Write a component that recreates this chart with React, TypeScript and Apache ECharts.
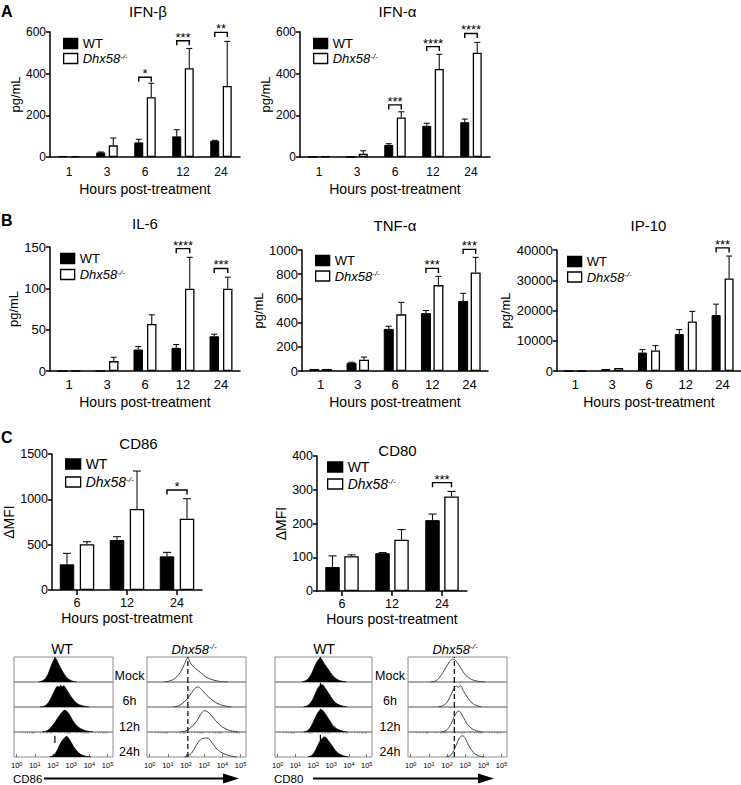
import React, { useEffect, useRef } from 'react';
import * as echarts from 'echarts';

const FONT = '"Liberation Sans", Arial, Helvetica, sans-serif';
const KO = 'Dhx58-/-';

// ---------- categories ----------
const hoursAB = ['1', '3', '6', '12', '24'];
const hoursC = ['6', '12', '24'];

// ---------- IFN-β (pg/mL) ----------
const ifnbWT = [4, 22, 70, 99, 78];
const ifnbWTErr = [0, 2, 15, 32, 2];
const ifnbKO = [4, 56, 287, 426, 341];
const ifnbKOErr = [0, 35, 67, 95, 214];
const ifnbSigCat = [2, 3, 4];
const ifnbSigAt = [383, 558, 598];
const ifnbSigTxt = ['*', '***', '**'];

// ---------- IFN-α ----------
const ifnaWT = [0, 0, 58, 150, 167];
const ifnaWTErr = [0, 0, 6, 12, 15];
const ifnaKO = [3, 16, 190, 423, 501];
const ifnaKOErr = [0, 14, 27, 70, 49];
const ifnaSigCat = [2, 3, 4];
const ifnaSigAt = [250, 530, 593];
const ifnaSigTxt = ['***', '****', '****'];

// ---------- IL-6 ----------
const il6WT = [0, 0, 26, 28, 42];
const il6WTErr = [0, 0, 3.5, 4, 2.5];
const il6KO = [0, 12, 57, 99.5, 99.5];
const il6KOErr = [0, 4.6, 11, 38, 14];
const il6SigCat = [3, 4];
const il6SigAt = [148, 124];
const il6SigTxt = ['****', '***'];

// ---------- TNF-α ----------
const tnfWT = [17, 68, 348, 478, 578];
const tnfWTErr = [0, 4, 22, 22, 64];
const tnfKO = [17, 93, 468, 710, 815];
const tnfKOErr = [0, 22, 99, 72, 124];
const tnfSigCat = [3, 4];
const tnfSigAt = [848, 1005];
const tnfSigTxt = ['***', '***'];

// ---------- IP-10 ----------
const ip10WT = [0, 650, 6100, 12200, 18500];
const ip10WTErr = [0, 0, 1000, 1500, 3600];
const ip10KO = [0, 1000, 6800, 16400, 30600];
const ip10KOErr = [0, 0, 1600, 3300, 7400];
const ip10SigCat = [4];
const ip10SigAt = [40700];
const ip10SigTxt = ['***'];

// ---------- CD86 (ΔMFI) ----------
const cd86WT = [283, 551, 371];
const cd86WTErr = [121, 37, 44];
const cd86KO = [504, 893, 787];
const cd86KOErr = [29, 419, 220];
const cd86SigCat = [2];
const cd86SigAt = [1103];
const cd86SigTxt = ['*'];

// ---------- CD80 (ΔMFI) ----------
const cd80WT = [71, 112, 210];
const cd80WTErr = [33, 2, 18];
const cd80KO = [103, 152, 280];
const cd80KOErr = [4, 30, 15];
const cd80SigCat = [2];
const cd80SigAt = [321];
const cd80SigTxt = ['***'];

// ---------- histograms: [log10 intensity, relative count] ----------
const rowLabels = ['Mock', '6h', '12h', '24h'];
const histTicks = [0, 1, 2, 3, 4, 5];

const cd86WtMock = [[1.2, 0], [1.4, 0.04], [1.6, 0.15], [1.8, 0.45], [1.95, 0.75], [2.12, 0.95], [2.3, 0.72], [2.5, 0.45], [2.75, 0.18], [3.0, 0.05], [3.3, 0]];
const cd86Wt6h = [[1.3, 0], [1.6, 0.06], [1.85, 0.3], [2.05, 0.6], [2.25, 0.82], [2.35, 0.8], [2.42, 0.87], [2.5, 0.8], [2.57, 0.85], [2.75, 0.68], [3.0, 0.4], [3.3, 0.15], [3.6, 0.05], [4.0, 0]];
const cd86Wt12h = [[1.4, 0], [1.7, 0.06], [2.0, 0.28], [2.25, 0.55], [2.45, 0.75], [2.65, 0.87], [2.85, 0.75], [3.05, 0.5], [3.35, 0.22], [3.7, 0.07], [4.2, 0]];
const cd86Wt24h = [[1.8, 0], [2.05, 0.08], [2.25, 0.3], [2.45, 0.6], [2.65, 0.78], [2.75, 0.82], [2.9, 0.7], [3.1, 0.45], [3.35, 0.2], [3.65, 0.06], [4.1, 0]];
const cd86WtMarkLo = [0.85, 0.03, 0.05, 0.56];
const cd86WtMarkHi = [1.0, 0.23, 0.25, 0.85];

const cd86KoMock = [[0.8, 0], [1.1, 0.04], [1.4, 0.15], [1.7, 0.4], [1.9, 0.7], [2.1, 0.97], [2.25, 0.75], [2.5, 0.55], [2.8, 0.38], [3.1, 0.2], [3.5, 0.08], [3.9, 0.02], [4.3, 0]];
const cd86Ko6h = [[1.3, 0], [1.6, 0.05], [1.9, 0.2], [2.2, 0.45], [2.45, 0.72], [2.65, 0.8], [2.85, 0.7], [3.1, 0.5], [3.4, 0.3], [3.7, 0.15], [4.1, 0.05], [4.5, 0]];
const cd86Ko12h = [[1.7, 0], [2.0, 0.05], [2.3, 0.2], [2.6, 0.45], [2.85, 0.75], [3.02, 0.85], [3.2, 0.8], [3.4, 0.65], [3.7, 0.4], [4.0, 0.2], [4.4, 0.06], [4.9, 0]];
const cd86Ko24h = [[1.9, 0], [2.1, 0.05], [2.3, 0.15], [2.55, 0.45], [2.8, 0.7], [2.95, 0.75], [3.15, 0.76], [3.35, 0.65], [3.6, 0.4], [3.9, 0.2], [4.3, 0.07], [4.8, 0]];
const cd86Ref = 2.1;

const cd80WtMock = [[1.35, 0], [1.6, 0.06], [1.8, 0.2], [2.0, 0.48], [2.2, 0.8], [2.4, 0.95], [2.6, 0.75], [2.85, 0.5], [3.1, 0.25], [3.4, 0.08], [3.85, 0]];
const cd80Wt6h = [[1.45, 0], [1.7, 0.06], [1.9, 0.22], [2.1, 0.5], [2.3, 0.8], [2.49, 0.89], [2.7, 0.72], [2.95, 0.45], [3.2, 0.2], [3.5, 0.07], [3.9, 0]];
const cd80Wt12h = [[1.45, 0], [1.7, 0.06], [1.9, 0.25], [2.1, 0.55], [2.3, 0.82], [2.47, 0.89], [2.65, 0.75], [2.9, 0.48], [3.15, 0.22], [3.5, 0.07], [3.9, 0]];
const cd80Wt24h = [[1.7, 0], [1.95, 0.08], [2.15, 0.3], [2.35, 0.6], [2.55, 0.78], [2.65, 0.8], [2.85, 0.65], [3.1, 0.4], [3.35, 0.18], [3.65, 0.06], [4.0, 0]];
const cd80WtMarkLo = [0.83, 0.83, 0.76, 0.63];
const cd80WtMarkHi = [1.0, 0.96, 0.93, 0.89];

const cd80KoMock = [[1.1, 0], [1.4, 0.05], [1.7, 0.3], [1.95, 0.6], [2.15, 0.82], [2.35, 0.92], [2.55, 0.78], [2.8, 0.5], [3.05, 0.25], [3.35, 0.1], [3.7, 0.03], [4.1, 0]];
const cd80Ko6h = [[1.5, 0], [1.8, 0.06], [2.05, 0.25], [2.25, 0.55], [2.42, 0.8], [2.52, 0.83], [2.62, 0.78], [2.72, 0.86], [2.9, 0.65], [3.15, 0.35], [3.45, 0.12], [3.9, 0]];
const cd80Ko12h = [[1.65, 0], [1.95, 0.06], [2.2, 0.3], [2.4, 0.62], [2.55, 0.8], [2.65, 0.84], [2.8, 0.72], [3.0, 0.45], [3.25, 0.2], [3.55, 0.07], [3.95, 0]];
const cd80Ko24h = [[1.95, 0], [2.2, 0.07], [2.4, 0.3], [2.6, 0.65], [2.75, 0.82], [2.85, 0.85], [3.0, 0.75], [3.2, 0.45], [3.45, 0.18], [3.7, 0.06], [4.05, 0]];
const cd80Ref = 2.4;

// ---------- layout (positions / styles only) ----------
const panels = [
  { title: 'IFN-β', tx: 148, ty: 11, cats: hoursAB, wt: ifnbWT, wtErr: ifnbWTErr, ko: ifnbKO, koErr: ifnbKOErr, sigCat: ifnbSigCat, sigAt: ifnbSigAt, sigTxt: ifnbSigTxt, yName: 'pg/mL', max: 600, step: 200, box: [50, 32, 240, 157], bw: 9, gap: 3.5, cap: 6, yGap: 27, xGap: 25, xMargin: 9, xTicks: false, tickFont: 12, leg: [63, 37], legW: 14, legFont: 13, legGap: 2 },
  { title: 'IFN-α', tx: 397.5, ty: 11, cats: hoursAB, wt: ifnaWT, wtErr: ifnaWTErr, ko: ifnaKO, koErr: ifnaKOErr, sigCat: ifnaSigCat, sigAt: ifnaSigAt, sigTxt: ifnaSigTxt, yName: 'pg/mL', max: 600, step: 200, box: [300, 32, 490, 157], bw: 9, gap: 3.5, cap: 6, yGap: 28, xGap: 25, xMargin: 9, xTicks: false, tickFont: 12, leg: [313, 37], legW: 14, legFont: 13, legGap: 2 },
  { title: 'IL-6', tx: 145, ty: 223, cats: hoursAB, wt: il6WT, wtErr: il6WTErr, ko: il6KO, koErr: il6KOErr, sigCat: il6SigCat, sigAt: il6SigAt, sigTxt: il6SigTxt, yName: 'pg/mL', max: 150, step: 50, box: [50, 247, 240, 371], bw: 9.5, gap: 4, cap: 6, yGap: 28, xGap: 24, xMargin: 7, xTicks: false, tickFont: 13, leg: [60, 252], legW: 14, legFont: 13, legGap: 3 },
  { title: 'TNF-α', tx: 395, ty: 225, cats: hoursAB, wt: tnfWT, wtErr: tnfWTErr, ko: tnfKO, koErr: tnfKOErr, sigCat: tnfSigCat, sigAt: tnfSigAt, sigTxt: tnfSigTxt, yName: 'pg/mL', max: 1000, step: 200, box: [302, 250, 488, 371], bw: 10, gap: 2.5, cap: 6, yGap: 24, xGap: 24, xMargin: 7, xTicks: false, tickFont: 13, leg: [315, 254], legW: 14, legFont: 13, legGap: 2.5 },
  { title: 'IP-10', tx: 648.5, ty: 225, cats: hoursAB, wt: ip10WT, wtErr: ip10WTErr, ko: ip10KO, koErr: ip10KOErr, sigCat: ip10SigCat, sigAt: ip10SigAt, sigTxt: ip10SigTxt, yName: 'pg/mL', max: 40000, step: 10000, box: [557, 250, 741, 371], bw: 9, gap: 4, cap: 6, yGap: 45, xGap: 24, xMargin: 7, xTicks: false, tickFont: 13, leg: [567, 255], legW: 14, legFont: 13, legGap: 2.5 },
  { title: 'CD86', tx: 138.5, ty: 443.5, cats: hoursC, wt: cd86WT, wtErr: cd86WTErr, ko: cd86KO, koErr: cd86KOErr, sigCat: cd86SigCat, sigAt: cd86SigAt, sigTxt: cd86SigTxt, yName: 'ΔMFI', max: 1500, step: 500, box: [52, 454, 202, 590], bw: 14.5, gap: 5.5, cap: 8, yGap: 31, xGap: 21, xMargin: 6, xTicks: true, tickFont: 12.5, leg: [65, 457], legW: 15, legFont: 14, legGap: 4 },
  { title: 'CD80', tx: 397.5, ty: 450, cats: hoursC, wt: cd80WT, wtErr: cd80WTErr, ko: cd80KO, koErr: cd80KOErr, sigCat: cd80SigCat, sigAt: cd80SigAt, sigTxt: cd80SigTxt, yName: 'ΔMFI', max: 400, step: 100, box: [317, 456, 467, 591], bw: 14.5, gap: 4.5, cap: 8, yGap: 27, xGap: 21, xMargin: 6, xTicks: true, tickFont: 12.5, leg: [327, 460], legW: 15, legFont: 14, legGap: 3 },
];

const histBoxes = [
  { left: 14, width: 99, wt: true, rows: [cd86WtMock, cd86Wt6h, cd86Wt12h, cd86Wt24h], lo: cd86WtMarkLo, hi: cd86WtMarkHi, ref: cd86Ref },
  { left: 147, width: 99, wt: false, rows: [cd86KoMock, cd86Ko6h, cd86Ko12h, cd86Ko24h], ref: cd86Ref },
  { left: 275, width: 97, wt: true, rows: [cd80WtMock, cd80Wt6h, cd80Wt12h, cd80Wt24h], lo: cd80WtMarkLo, hi: cd80WtMarkHi, ref: cd80Ref },
  { left: 408, width: 99, wt: false, rows: [cd80KoMock, cd80Ko6h, cd80Ko12h, cd80Ko24h], ref: cd80Ref },
];
const HROW_TOP = 657;
const HROW_H = 25;
const HMIN = -0.15;
const HMAX = 5.3;

const koRich = (size: number) => ({
  i: { fontStyle: 'italic', fontSize: size, fontFamily: FONT, color: '#000', fill: '#000' },
  s: { fontStyle: 'italic', fontSize: Math.round(size * 0.6), fontFamily: FONT, color: '#000', fill: '#000', verticalAlign: 'top' },
});

function txt(x: number, y: number, text: string, size: number, opts: any = {}) {
  const align = opts.align || 'center';
  return {
    type: 'text', x, y, silent: true,
    style: {
      text, fontSize: size, fontFamily: FONT, fontWeight: opts.weight || 'normal', fill: '#000',
      align, textAlign: align, verticalAlign: 'middle', textVerticalAlign: 'middle',
      rich: opts.rich,
    },
  };
}

function buildOption() {
  const grid: any[] = [];
  const xAxis: any[] = [];
  const yAxis: any[] = [];
  const series: any[] = [];
  const legend: any[] = [];
  const graphic: any[] = [];

  panels.forEach((p, k) => {
    const [L, T, R, B] = p.box;
    grid.push({ left: L, top: T, width: R - L, height: B - T });
    xAxis.push({
      type: 'category', gridIndex: k, data: p.cats,
      axisLine: { lineStyle: { color: '#000', width: 1.5 } },
      axisTick: { show: p.xTicks, alignWithLabel: true, length: 5, lineStyle: { color: '#000', width: 1.5 } },
      axisLabel: { color: '#000', fontSize: p.tickFont, fontFamily: FONT, margin: p.xMargin },
      name: 'Hours post-treatment', nameLocation: 'middle', nameGap: p.xGap,
      nameTextStyle: { color: '#000', fontSize: 14, fontFamily: FONT },
    });
    yAxis.push({
      type: 'value', gridIndex: k, min: 0, max: p.max, interval: p.step,
      axisLine: { show: true, lineStyle: { color: '#000', width: 1.5 } },
      axisTick: { show: true, length: 4, lineStyle: { color: '#000', width: 1.5 } },
      splitLine: { show: false },
      axisLabel: { color: '#000', fontSize: p.tickFont, fontFamily: FONT, margin: 4, formatter: (v: number) => String(v) },
      name: p.yName, nameLocation: 'middle', nameGap: p.yGap,
      nameTextStyle: { color: '#000', fontSize: p.yName === 'ΔMFI' ? 14 : 13, fontFamily: FONT },
    });
    const gapPct = (p.gap / p.bw) * 100 + '%';
    series.push({
      type: 'bar', name: 'WT', xAxisIndex: k, yAxisIndex: k, data: p.wt, barWidth: p.bw, barGap: gapPct,
      itemStyle: { color: '#000', borderColor: '#000', borderWidth: 1 }, silent: true,
    });
    series.push({
      type: 'bar', name: KO, xAxisIndex: k, yAxisIndex: k, data: p.ko, barWidth: p.bw, barGap: gapPct,
      itemStyle: { color: '#fff', borderColor: '#000', borderWidth: 1.3 }, silent: true,
    });
    const off = (p.bw + p.gap) / 2;
    const errSeries = (vals: number[], errs: number[], dx: number) => ({
      type: 'custom', xAxisIndex: k, yAxisIndex: k, z: 5, clip: false, silent: true,
      data: vals.map((v, i) => [i, v, errs[i]]),
      renderItem: (params: any, api: any) => {
        const i = api.value(0);
        const v = api.value(1);
        const e = api.value(2);
        if (!e) return { type: 'group', children: [] };
        const p0 = api.coord([i, v]);
        const p1 = api.coord([i, v + e]);
        const x = p0[0] + dx;
        return {
          type: 'group',
          children: [
            { type: 'line', shape: { x1: x, y1: p0[1], x2: x, y2: p1[1] }, style: { stroke: '#111', lineWidth: 1.1 } },
            { type: 'line', shape: { x1: x - p.cap / 2, y1: p1[1], x2: x + p.cap / 2, y2: p1[1] }, style: { stroke: '#111', lineWidth: 1.1 } },
          ],
        };
      },
    });
    series.push(errSeries(p.wt, p.wtErr, -off));
    series.push(errSeries(p.ko, p.koErr, off));
    series.push({
      type: 'custom', xAxisIndex: k, yAxisIndex: k, z: 6, clip: false, silent: true,
      data: p.sigCat.map((c, j) => [c, p.sigAt[j]]),
      renderItem: (params: any, api: any) => {
        const pt = api.coord([api.value(0), api.value(1)]);
        const x1 = pt[0] - off;
        const x2 = pt[0] + off;
        const y = pt[1];
        return {
          type: 'group',
          children: [
            { type: 'polyline', shape: { points: [[x1, y + 4.5], [x1, y], [x2, y], [x2, y + 4.5]] }, style: { stroke: '#000', lineWidth: 1.4, fill: null } },
            {
              type: 'text', x: (x1 + x2) / 2, y: y + 3,
              style: { text: p.sigTxt[params.dataIndex], fontSize: 13, fontFamily: FONT, fill: '#000', align: 'center', textAlign: 'center', verticalAlign: 'bottom', textVerticalAlign: 'bottom' },
            },
          ],
        };
      },
    });
    legend.push({
      left: p.leg[0], top: p.leg[1], orient: 'vertical', padding: 0, itemGap: p.legGap,
      itemWidth: p.legW, itemHeight: 10, icon: 'rect', selectedMode: false, data: ['WT', KO],
      itemStyle: { borderWidth: 1.3, borderColor: '#000' },
      formatter: (n: string) => (n === KO ? '{i|Dhx58}{s|-/-}' : n),
      textStyle: { color: '#000', fontSize: p.legFont, fontFamily: FONT, rich: koRich(p.legFont) },
    });
    graphic.push(txt(p.tx, p.ty, p.title, 15));
  });

  // ---------- histograms ----------
  const minorTicks: number[] = [];
  for (let d = 0; d < 5; d++) for (let m = 2; m <= 9; m++) minorTicks.push(d + Math.log10(m));

  histBoxes.forEach((hb) => {
    hb.rows.forEach((rowData, r) => {
      const gi = grid.length;
      grid.push({
        left: hb.left, top: HROW_TOP + r * HROW_H, width: hb.width, height: HROW_H,
        show: true, borderColor: '#8c8c8c', borderWidth: 1, backgroundColor: 'transparent',
      });
      const last = r === hb.rows.length - 1;
      const xi = xAxis.length;
      xAxis.push({
        type: 'value', gridIndex: gi, min: HMIN, max: HMAX, show: true,
        axisLine: { show: false }, splitLine: { show: false },
        axisTick: { show: last, inside: true, length: 3, customValues: histTicks, lineStyle: { color: '#555', width: 0.8 } },
        axisLabel: {
          show: last, customValues: histTicks, margin: 4,
          formatter: (v: number) => `{b|10}{s|${Math.round(v)}}`,
          rich: {
            b: { fontSize: 7.5, fontFamily: FONT, color: '#000' },
            s: { fontSize: 5.5, fontFamily: FONT, color: '#000', verticalAlign: 'top' },
          },
        },
      });
      if (last) {
        xAxis.push({
          type: 'value', gridIndex: gi, min: HMIN, max: HMAX, show: true,
          axisLine: { show: false }, splitLine: { show: false }, axisLabel: { show: false },
          axisTick: { show: true, inside: true, length: 1.5, customValues: minorTicks, lineStyle: { color: '#777', width: 0.6 } },
        });
      }
      const yi = yAxis.length;
      yAxis.push({ type: 'value', gridIndex: gi, min: 0, max: 1, show: false });
      series.push({
        type: 'line', xAxisIndex: xi, yAxisIndex: yi, data: rowData, smooth: 0.35, symbol: 'none', silent: true,
        lineStyle: hb.wt ? { color: '#000', width: 0.8 } : { color: '#333', width: 0.9 },
        areaStyle: hb.wt ? { color: '#000', opacity: 1 } : undefined,
      });
      if (hb.wt && hb.lo && hb.hi) {
        series.push({
          type: 'line', xAxisIndex: xi, yAxisIndex: yi, symbol: 'none', silent: true, z: 4,
          data: [[hb.ref, hb.lo[r]], [hb.ref, hb.hi[r]]],
          lineStyle: { color: '#000', width: 1.2 },
        });
      }
      if (!hb.wt) {
        series.push({
          type: 'line', xAxisIndex: xi, yAxisIndex: yi, symbol: 'none', silent: true, z: 4,
          data: [[hb.ref, 0], [hb.ref, 1]],
          lineStyle: { color: '#111', width: 1.3, type: [5, 3] },
        });
      }
    });
  });

  // ---------- texts & decorations ----------
  graphic.push(txt(1, 11, 'A', 16, { align: 'left', weight: 'bold' }));
  graphic.push(txt(1, 220.5, 'B', 16, { align: 'left', weight: 'bold' }));
  graphic.push(txt(1, 437, 'C', 16, { align: 'left', weight: 'bold' }));

  const rowY = [675.5, 701.3, 727, 752];
  [129.5, 390].forEach((x) => rowLabels.forEach((lab, r) => graphic.push(txt(x, rowY[r], lab, 12.5))));

  graphic.push(txt(62, 649, 'WT', 14));
  graphic.push(txt(324, 649, 'WT', 14));
  graphic.push(txt(194, 649, '{i|Dhx58}{s|-/-}', 13, { rich: koRich(13) }));
  graphic.push(txt(455, 649, '{i|Dhx58}{s|-/-}', 13, { rich: koRich(13) }));

  graphic.push(txt(13, 779, 'CD86', 11.5, { align: 'left' }));
  graphic.push(txt(274, 779, 'CD80', 11.5, { align: 'left' }));
  graphic.push({ type: 'line', silent: true, shape: { x1: 44, y1: 778.5, x2: 226, y2: 778.5 }, style: { stroke: '#000', lineWidth: 2 } });
  graphic.push({ type: 'polygon', silent: true, shape: { points: [[223, 773.5], [239, 778.5], [223, 783.5]] }, style: { fill: '#000' } });
  graphic.push({ type: 'line', silent: true, shape: { x1: 313, y1: 778.5, x2: 481, y2: 778.5 }, style: { stroke: '#000', lineWidth: 2 } });
  graphic.push({ type: 'polygon', silent: true, shape: { points: [[478, 773.5], [494, 778.5], [478, 783.5]] }, style: { fill: '#000' } });

  return {
    animation: false,
    backgroundColor: '#fff',
    textStyle: { fontFamily: FONT },
    grid, xAxis, yAxis, series, legend, graphic,
  };
}

export default function App() {
  const ref = useRef<HTMLDivElement>(null);
  useEffect(() => {
    if (!ref.current) return;
    const chart = echarts.init(ref.current, null, { renderer: 'svg' });
    chart.setOption(buildOption() as any);
    return () => chart.dispose();
  }, []);
  return <div ref={ref} style={{ position: 'fixed', left: 0, top: 0, width: 741, height: 785, background: '#fff' }} />;
}
